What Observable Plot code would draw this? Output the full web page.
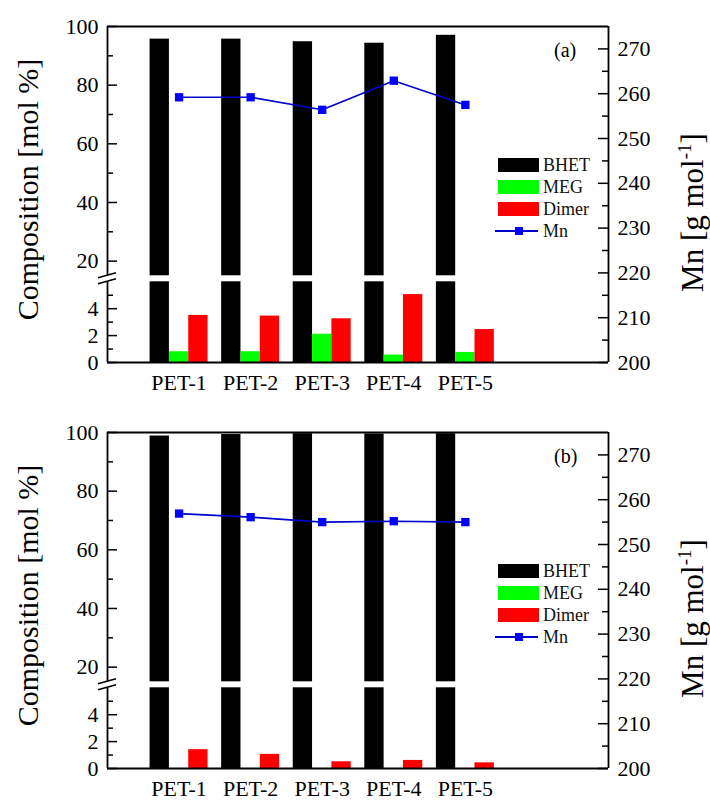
<!DOCTYPE html>
<html><head><meta charset="utf-8">
<script src="https://cdn.jsdelivr.net/npm/d3@7"></script>
<script src="https://cdn.jsdelivr.net/npm/@observablehq/plot@0.6"></script>
<style>
html,body{margin:0;padding:0;background:#fff;overflow:hidden}
#wrap{position:relative;width:710px;height:801px;font-family:"Liberation Serif","Times New Roman",serif;color:#000}
.panel{position:absolute;left:0;width:710px}
.panel svg{position:absolute;left:0;top:0}
.legend{position:absolute;left:495px;font-size:18px;color:#111;width:110px;height:90px}
.row{position:absolute;left:0;height:14px;line-height:14px;white-space:nowrap;width:110px}
.box{position:absolute;left:3px;top:0;width:41px;height:14px}
.lab{position:absolute;left:48px;top:0}
.tag{position:absolute;left:554px;font-size:20px;line-height:20px}
</style></head><body><div id="wrap"></div>
<script>
// ---- data ----
const samples = ["PET-1", "PET-2", "PET-3", "PET-4", "PET-5"];
const seriesNames = ["BHET", "MEG", "Dimer", "Mn"];
const seriesColors = ["#000000", "#00ff00", "#ff0000", "#0000ff"];
// panel (a)
const bhetA  = [95.7, 95.7, 94.8, 94.3, 97.0];
const megA   = [0.8, 0.8, 2.1, 0.55, 0.75];
const dimerA = [3.5, 3.45, 3.25, 5.05, 2.45];
const mnA    = [259.2, 259.2, 256.4, 262.9, 257.5];
// panel (b)
const bhetB  = [98.8, 99.3, 99.6, 99.5, 99.6];
const megB   = [0, 0, 0, 0, 0];
const dimerB = [1.4, 1.05, 0.5, 0.6, 0.42];
const mnB    = [256.9, 256.1, 255.0, 255.2, 255.0];
// tick values
const leftMajor  = [0, 2, 4, 20, 40, 60, 80, 100];
const leftMinor  = [1, 3, 5, 30, 50, 70, 90];
const rightMajor = [200, 210, 220, 230, 240, 250, 260, 270];
const rightMinor = [205, 215, 225, 235, 245, 255, 265];
const yBreak = [0, 6, 15, 100]; // lower segment 0-6, upper segment 15-100

// ---- layout ----
const W = 710, ML = 107, MR = 102, MT = 26;
const PW = W - ML - MR;
const FONT = '"Liberation Serif","Times New Roman",serif';
const wrap = document.getElementById("wrap");

function makePanel(tag, top, H, MB, bhet, meg, dimer, mn) {
  const div = document.createElement("div");
  div.className = "panel";
  div.style.top = top + "px";
  div.style.height = H + "px";
  wrap.appendChild(div);

  const bottom = H - MB;
  const lowPx = 13.45;
  const yRange = [bottom, bottom - 6 * lowPx, bottom - 6 * lowPx - 6, MT];
  const rows = samples.map((s, i) => ({s, x: i + 1, bhet: bhet[i], meg: meg[i], dimer: dimer[i], mn: mn[i]}));
  const h = 0.135;
  const style = {background: "transparent", fontFamily: FONT, fontSize: "22px", color: "#000", overflow: "visible"};

  const left = Plot.plot({
    width: W, height: H, marginLeft: ML, marginRight: MR, marginTop: MT, marginBottom: MB,
    style,
    x: {type: "linear", domain: [0, 7], axis: null},
    y: {type: "linear", domain: yBreak, range: yRange, axis: null},
    marks: [
      Plot.rect(rows, {x1: d => d.x - 3 * h, x2: d => d.x - h, y1: () => yBreak[0], y2: () => yBreak[1], fill: seriesColors[0]}),
      Plot.rect(rows, {x1: d => d.x - 3 * h, x2: d => d.x - h, y1: () => yBreak[2], y2: d => d.bhet, fill: seriesColors[0]}),
      Plot.rect(rows, {x1: d => d.x - h, x2: d => d.x + h, y1: () => 0, y2: d => d.meg, fill: seriesColors[1]}),
      Plot.rect(rows, {x1: d => d.x + h, x2: d => d.x + 3 * h, y1: () => 0, y2: d => d.dimer, fill: seriesColors[2]}),
      Plot.ruleY([0], {strokeWidth: 1.8}),
      Plot.ruleY([100], {strokeWidth: 1.8}),
      Plot.ruleX([0], {y1: () => yBreak[0], y2: () => yBreak[1], strokeWidth: 1.8}),
      Plot.ruleX([0], {y1: () => yBreak[2], y2: () => yBreak[3], strokeWidth: 1.8}),
      Plot.tickY(leftMajor, {y: d => d, insetRight: PW - 10, strokeWidth: 1.5}),
      Plot.tickY(leftMinor, {y: d => d, insetRight: PW - 6, strokeWidth: 1.5}),
      Plot.axisY(leftMajor, {anchor: "left", tickSize: 0, tickPadding: 9, label: null, fontSize: 22}),
      Plot.axisX(rows.map(d => d.x), {anchor: "bottom", tickFormat: i => samples[i - 1], tickSize: 0, tickPadding: 12, label: null, fontSize: 22}),
      Plot.text(["Composition [mol %]"], {text: d => d, frameAnchor: "left", textAnchor: "middle", lineAnchor: "middle", rotate: -90, dx: -79, dy: -5, fontSize: 30})
    ]
  });

  const right = Plot.plot({
    width: W, height: H, marginLeft: ML, marginRight: MR, marginTop: MT, marginBottom: MB,
    style,
    x: {type: "linear", domain: [0, 7], axis: null},
    y: {type: "linear", domain: [200, 275], axis: null},
    marks: [
      Plot.ruleX([7], {strokeWidth: 1.8}),
      Plot.tickY(rightMajor, {y: d => d, insetLeft: PW - 10, strokeWidth: 1.5}),
      Plot.tickY(rightMinor, {y: d => d, insetLeft: PW - 6, strokeWidth: 1.5}),
      Plot.axisY(rightMajor, {anchor: "right", tickSize: 0, tickPadding: 9, label: null, fontSize: 22}),
      Plot.line(rows, {x: "x", y: "mn", stroke: "#0000cc", strokeWidth: 1.6}),
      Plot.dot(rows, {x: "x", y: "mn", symbol: "square", r: 4.7, fill: seriesColors[3], stroke: null}),
      Plot.text(["Mn [g mol-1]"], {text: d => d, frameAnchor: "right", textAnchor: "middle", lineAnchor: "middle", rotate: -90, dx: 85, dy: 18, fontSize: 31})
    ]
  });

  div.appendChild(left);
  div.appendChild(right);

  // superscript in Mn label
  d3.select(right).selectAll("text").filter(function () { return this.textContent === "Mn [g mol-1]"; })
    .each(function () {
      const t = d3.select(this);
      t.text("Mn [g mol");
      t.append("tspan").attr("font-size", 19).attr("dy", -12).text("-1");
      t.append("tspan").attr("font-size", 31).attr("dy", 12).text("]");
    });

  // axis-break marks
  const xs = left.scale("x"), ys = left.scale("y");
  const bx = xs.apply(0), by = (ys.apply(yBreak[1]) + ys.apply(yBreak[2])) / 2;
  const g = d3.select(left).append("g").attr("stroke", "#000").attr("stroke-width", 1.5);
  [-3, 3].forEach(off => {
    g.append("line").attr("x1", bx - 9).attr("y1", by + off + 2.5).attr("x2", bx + 9).attr("y2", by + off - 2.5);
  });

  // legend
  const lg = document.createElement("div");
  lg.className = "legend";
  lg.style.top = "158px";
  seriesNames.forEach((name, i) => {
    const r = document.createElement("div");
    r.className = "row";
    r.style.top = (i * 22) + "px";
    if (i < 3) {
      const b = document.createElement("div");
      b.className = "box"; b.style.background = seriesColors[i];
      r.appendChild(b);
    } else {
      const ln = document.createElement("div");
      ln.style.cssText = "position:absolute;left:0;top:6px;width:43px;height:1.6px;background:#0000cc";
      const sq = document.createElement("div");
      sq.style.cssText = "position:absolute;left:20px;top:3px;width:8px;height:8px;background:" + seriesColors[3];
      r.appendChild(ln); r.appendChild(sq);
    }
    const l = document.createElement("div");
    l.className = "lab"; l.textContent = name;
    r.appendChild(l);
    lg.appendChild(r);
  });
  div.appendChild(lg);

  const tg = document.createElement("div");
  tg.className = "tag";
  tg.style.top = "40px";
  tg.textContent = tag;
  div.appendChild(tg);
}

makePanel("(a)", 0, 406, 44, bhetA, megA, dimerA, mnA);
makePanel("(b)", 406, 395, 33, bhetB, megB, dimerB, mnB);
</script></body></html>
